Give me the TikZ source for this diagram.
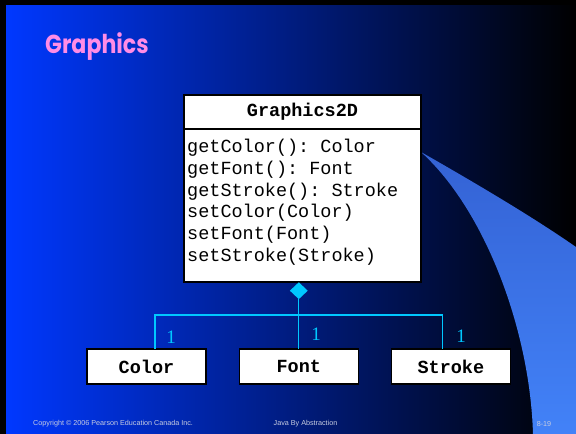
\documentclass[tikz,border=0pt]{standalone}
\usepackage{fontspec}
\setmainfont{Liberation Serif}
\setsansfont{Liberation Sans}
\setmonofont{Liberation Mono}
\newfontfamily\titlefont{Poppins}
\usepackage{tikz}
\usetikzlibrary{shapes,positioning,calc}

\definecolor{bgblue}{RGB}{0,56,255}
\definecolor{bgmid}{RGB}{0,26,165}
\definecolor{swtop}{RGB}{52,98,212}
\definecolor{swbot}{RGB}{66,130,248}
\definecolor{linkcyan}{RGB}{0,200,255}
\definecolor{titlepink}{RGB}{255,140,230}
\definecolor{footgray}{RGB}{200,205,225}

\begin{document}
\begin{tikzpicture}[x=1pt,y=-1pt,
    classbox/.style={draw=black, line width=1.2pt, fill=white, outer sep=0pt, inner sep=0pt},
    link/.style={draw=linkcyan, line width=1.2pt},
    mult/.style={text=linkcyan, font=\rmfamily\fontsize{19}{20}\selectfont, inner sep=0pt},
    foot/.style={text=footgray, font=\sffamily\fontsize{7.2}{8}\selectfont, inner sep=0pt}]
        \useasboundingbox (0,0) rectangle (576,434);
        % slide background
        \fill[black] (0,0) rectangle (576,434);
        \shade[left color=bgblue, middle color=bgmid, right color=black] (6,5) rectangle (576,434);
        \shade[top color=swtop, bottom color=swbot] (421,152) .. controls (470,180) and (530,215) .. (576,247)
            -- (576,434) -- (533,434) .. controls (530,330) and (485,210) .. (421,152) -- cycle;

        \node[anchor=base west, text=titlepink, font=\titlefont\bfseries\fontsize{26}{30}\selectfont, inner sep=0pt] (title) at (45,53) {\scalebox{0.85}[1]{Graphics}};

        % class Graphics2D
        \node[classbox, minimum width=237pt, minimum height=34pt, font=\ttfamily\bfseries\fontsize{18.5}{20}\selectfont] (head) at (302.5,112) {Graphics2D};
        \node[classbox, minimum width=237pt, minimum height=153pt, anchor=north] (body) at (head.south) {};
        \node[anchor=north west, align=left, inner sep=0pt, font=\ttfamily\fontsize{18.5}{21.7}\selectfont] (ops) at ([shift={(3,10)}]body.north west)
            {getColor(): Color\\getFont(): Font\\getStroke(): Stroke\\setColor(Color)\\setFont(Font)\\setStroke(Stroke)};

        \node[classbox, minimum width=119pt, minimum height=35pt, font=\ttfamily\bfseries\fontsize{18.5}{20}\selectfont] (color) at (146.5,366.5) {Color};
        \node[classbox, minimum width=119pt, minimum height=35pt, font=\ttfamily\bfseries\fontsize{18.5}{20}\selectfont] (font) at (298.8,366.5) {Font};
        \node[classbox, minimum width=119pt, minimum height=35pt, font=\ttfamily\bfseries\fontsize{18.5}{20}\selectfont] (stroke) at (450.9,366.5) {Stroke};

        % aggregation
        \node[diamond, fill=linkcyan, inner sep=0pt, minimum width=18pt, minimum height=17pt, anchor=north] (agg) at (body.south -| font.north) {};
        \draw[link] (agg.south) -- (font.north);
        \draw[link] ([xshift=8.5pt]color.north) -- ++(0,-34) -| ([xshift=-8.5pt]stroke.north);

        \node[mult] (m1) at (171,337) {1};
        \node[mult] (m2) at (316,334) {1};
        \node[mult] (m3) at (461,336) {1};

        \node[foot, anchor=west] (copy) at (33,424) {Copyright © 2006 Pearson Education Canada Inc.};
        \node[foot] (book) at (305.5,424) {Java By Abstraction};
        \node[foot] (page) at (544,424) {8-19};
    \end{tikzpicture}
\end{document}
